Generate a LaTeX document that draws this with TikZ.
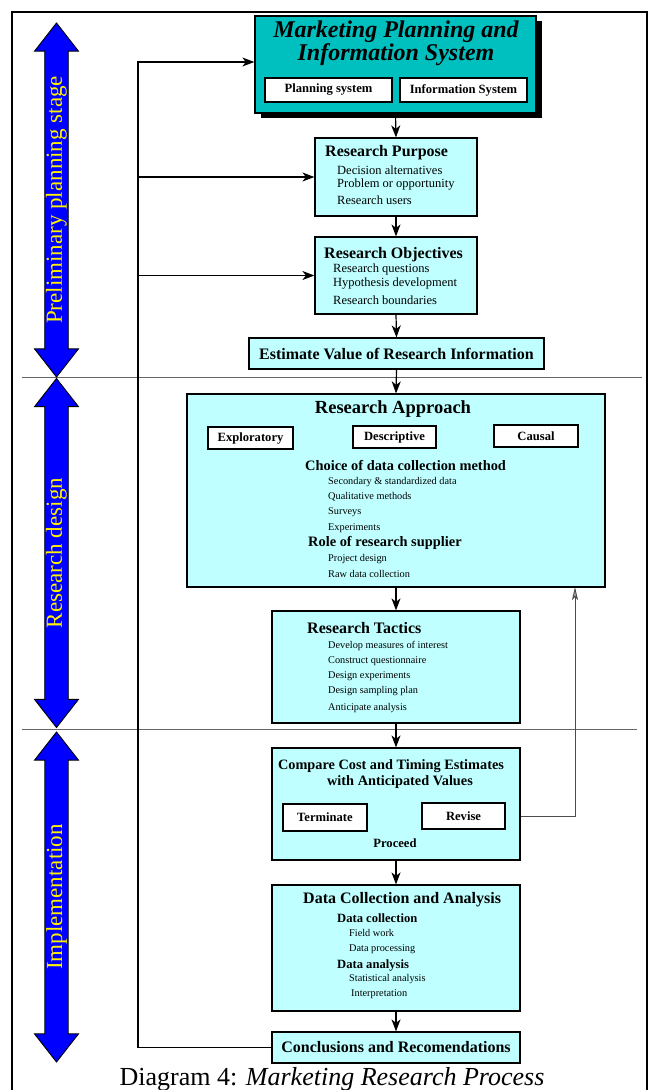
\documentclass[tikz,border=0pt]{standalone}
\usepackage{fontspec}
\setmainfont{Liberation Serif}
\usepackage{tikz}
\usetikzlibrary{arrows.meta,shapes.arrows,shadows}
\definecolor{tealbox}{HTML}{00BFBF}
\definecolor{lightcyan}{HTML}{C0FFFF}
\definecolor{stageblue}{HTML}{0000FF}
\tikzstyle{main box}=[fill=tealbox, draw=black, line width=1.3pt, shape=rectangle, inner sep=0pt,
    drop shadow={shadow xshift=6pt, shadow yshift=-5pt, opacity=1, fill=black}]
\tikzstyle{light box}=[fill=lightcyan, draw=black, line width=1.2pt, shape=rectangle, inner sep=0pt]
\tikzstyle{label box}=[fill=white, draw=black, line width=1.3pt, shape=rectangle, inner sep=0pt,
    font=\fontsize{12.6}{14}\selectfont\bfseries]
\tikzstyle{stage arrow}=[double arrow, rotate=90, fill=stageblue, draw=black, line width=0.9pt,
    inner sep=0pt, minimum width=44pt, double arrow head extend=9.5pt, double arrow tip angle=76,
    text=yellow, font=\fontsize{23}{25}\selectfont]
\tikzstyle{box title}=[inner sep=0pt, anchor=west, font=\fontsize{16}{18}\selectfont\bfseries]
\tikzstyle{sub title}=[inner sep=0pt, anchor=west, font=\fontsize{14.4}{16}\selectfont\bfseries]
\tikzstyle{small title}=[inner sep=0pt, anchor=west, font=\fontsize{12.6}{14}\selectfont\bfseries]
\tikzstyle{item}=[inner sep=0pt, anchor=west, font=\fontsize{12.5}{14}\selectfont]
\tikzstyle{small item}=[inner sep=0pt, anchor=west, font=\fontsize{10.3}{12}\selectfont]
\tikzstyle{flow}=[-{Stealth[length=12pt, width=9pt, inset=3.5pt]}, line width=1.2pt]
\tikzstyle{divider}=[draw=black!60, line width=1pt]
\tikzstyle{revise line}=[-{Stealth[length=13pt, width=6pt, inset=3pt, fill=black!35]}, draw=black!70, line width=0.9pt]
\pgfdeclarelayer{nodelayer}
\pgfdeclarelayer{edgelayer}
\pgfsetlayers{edgelayer,nodelayer,main}

\begin{document}
\begin{tikzpicture}[x=1pt, y=-1pt]
    \useasboundingbox (0,0) rectangle (653,1090);
    \clip (0,0) rectangle (653,1090);
    \draw [line width=1.6pt] (12,12) rectangle (647,1120);
    	\begin{pgfonlayer}{nodelayer}
    		% stages
    		\node [style=stage arrow, minimum height=354pt] (prelim) at (56.5, 200) {Preliminary planning stage};
    		\node [style=stage arrow, minimum height=349pt] (design) at (56.5, 553) {Research design};
    		\node [style=stage arrow, minimum height=330pt] (implement) at (56.5, 897) {Implementation};
    		% boxes
    		\node [style=main box, minimum width=281pt, minimum height=97pt] (mps) at (395.5, 64.5) {};
    		\node [style=label box, minimum width=127pt, minimum height=24pt] (plan) at (328.5, 90) {Planning system};
    		\node [style=label box, minimum width=127pt, minimum height=24pt] (info) at (463.5, 90) {Information System};
    		\node [style=light box, minimum width=162pt, minimum height=78pt] (purpose) at (396, 177) {};
    		\node [style=light box, minimum width=162pt, minimum height=77pt] (objectives) at (396, 275.5) {};
    		\node [style=light box, minimum width=295pt, minimum height=31pt, font=\fontsize{16}{18}\selectfont\bfseries] (estimate) at (396.5, 353.5) {Estimate Value of Research Information};
    		\node [style=light box, minimum width=418pt, minimum height=193pt] (approach) at (396, 490.5) {};
    		\node [style=label box, minimum width=85pt, minimum height=22pt] (explor) at (250.5, 438) {Exploratory};
    		\node [style=label box, minimum width=83pt, minimum height=22pt] (descr) at (394.5, 437) {Descriptive};
    		\node [style=label box, minimum width=84pt, minimum height=22pt] (causal) at (536, 436) {Causal};
    		\node [style=light box, minimum width=248pt, minimum height=112pt] (tactics) at (396, 667) {};
    		\node [style=light box, minimum width=248pt, minimum height=112pt] (compare) at (396, 804) {};
    		\node [style=label box, minimum width=84pt, minimum height=27pt] (terminate) at (325, 817.5) {Terminate};
    		\node [style=label box, minimum width=83pt, minimum height=26pt] (revise) at (463.5, 816) {Revise};
    		\node [style=light box, minimum width=248pt, minimum height=126pt] (datacoll) at (396, 948) {};
    		\node [style=light box, minimum width=248pt, minimum height=31pt, font=\fontsize{16}{18}\selectfont\bfseries] (concl) at (396, 1047.5) {Conclusions and Recomendations};
    	\end{pgfonlayer}
    	\begin{pgfonlayer}{edgelayer}
    		\draw [style=divider] (22, 377) -- (642, 377);
    		\draw [style=divider] (22, 729) -- (637, 729);
    		\draw [style=flow] (mps.south) -- (purpose.north);
    		\draw [style=flow] (purpose.south) -- (objectives.north);
    		\draw [style=flow] (objectives.south) -- (estimate.north);
    		\draw [style=flow] (estimate.south) -- (approach.north);
    		\draw [style=flow] (approach.south) -- (tactics.north);
    		\draw [style=flow] (tactics.south) -- (compare.north);
    		\draw [style=flow] (compare.south) -- (datacoll.north);
    		\draw [style=flow] (datacoll.south) -- (concl.north);
    		% feedback to the planning stage
    		\coordinate (loop) at (138, 62);
    		\draw [style=flow] (concl.west) -| (loop) -- (loop -| mps.west);
    		\draw [style=flow] (loop |- purpose.west) -- (purpose.west);
    		\draw [style=flow] (loop |- objectives.west) -- (objectives.west);
    		% revise
    		\coordinate (back) at (575, 587);
    		\draw [style=revise line] (revise.east) -| (back);
    	\end{pgfonlayer}
    	% texts
    	\node [align=center, inner sep=0pt, font=\fontsize{24}{21}\selectfont\bfseries\itshape] (mpstitle) at (396, 43) {Marketing Planning and\\Information System};
    	\node [style=box title] (purposetitle) at (325, 153) {Research Purpose};
    	\foreach \txt [count=\i from 0] in {Decision alternatives, Problem or opportunity, Research users}
    		\node [style=item] (purpose item\i) at (337, 170+15*\i) {\txt};
    	\node [style=box title] (objtitle) at (324, 255) {Research Objectives};
    	\foreach \y/\txt [count=\i] in {269/Research questions, 284/Hypothesis development, 300/Research boundaries}
    		\node [style=item] (obj item\i) at (333, \y) {\txt};
    	\node [inner sep=0pt, font=\fontsize{18.5}{20}\selectfont\bfseries] (apptitle) at (393, 409) {Research Approach};
    	\node [style=sub title] (choice) at (305, 465) {Choice of data collection method};
    	\foreach \y/\txt [count=\i] in {482/Secondary \& standardized data, 497/Qualitative methods, 512/Surveys, 528/Experiments}
    		\node [style=small item] (choice item\i) at (328, \y) {\txt};
    	\node [style=sub title] (role) at (308, 543) {Role of research supplier};
    	\foreach \y/\txt [count=\i] in {559/Project design, 574/Raw data collection}
    		\node [style=small item] (role item\i) at (328, \y) {\txt};
    	\node [style=box title] (tactitle) at (307, 628) {Research Tactics};
    	\foreach \y/\txt [count=\i] in {646/Develop measures of interest, 661/Construct questionnaire, 676/Design experiments, 691/Design sampling plan, 708/Anticipate analysis}
    		\node [style=small item] (tac item\i) at (328, \y) {\txt};
    	\node [inner sep=0pt, font=\fontsize{14.3}{16}\selectfont\bfseries] (comptitle) at (391, 766) {Compare Cost and Timing Estimates};
    	\node [inner sep=0pt, font=\fontsize{14.3}{16}\selectfont\bfseries] (comptitle2) at (400, 782) {with Anticipated Values};
    	\node [inner sep=0pt, font=\fontsize{12.6}{14}\selectfont\bfseries] (proceed) at (395, 843) {Proceed};
    	\node [style=box title] (datatitle) at (303, 900) {Data Collection and Analysis};
    	\node [style=small title] (collect) at (337, 918) {Data collection};
    	\node [style=small item] (field) at (349, 933) {Field work};
    	\node [style=small item] (process) at (349, 949) {Data processing};
    	\node [style=small title] (analysis) at (337, 965) {Data analysis};
    	\node [style=small item] (stat) at (349, 979) {Statistical analysis};
    	\node [style=small item] (interp) at (351, 994) {Interpretation};
    	% caption
    	\node [anchor=north, inner sep=0pt, font=\fontsize{26}{28}\selectfont] (caption) at (332, 1067) {Diagram 4: \textit{Marketing Research Process}};
\end{tikzpicture}
\end{document}
